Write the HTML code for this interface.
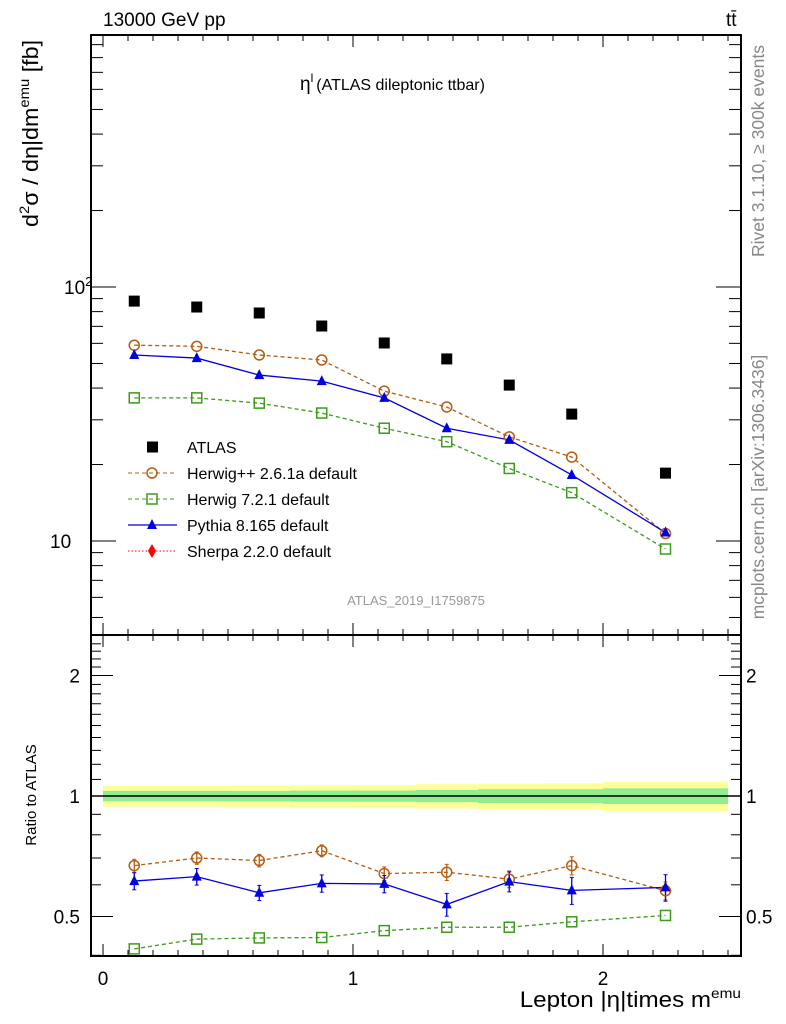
<!DOCTYPE html>
<html><head><meta charset="utf-8"><style>
body{margin:0;background:#fff;}
svg{display:block;font-family:"Liberation Sans",sans-serif;}
</style></head><body>
<svg id="chart" width="786" height="1024" xmlns="http://www.w3.org/2000/svg"></svg>
<script>
const binCenters=[0.125,0.375,0.625,0.875,1.125,1.375,1.625,1.875,2.25];
const binEdges=[0,0.25,0.5,0.75,1.0,1.25,1.5,1.75,2.0,2.5];
const atlasVals=[88,83.4,79,70.2,60.2,52.1,41.1,31.6,18.5];
const herwigppVals=[59,58.4,54,51.6,38.9,33.7,25.7,21.4,10.7];
const herwig7Vals=[36.6,36.6,34.9,31.9,27.8,24.6,19.3,15.5,9.3];
const pythiaVals=[54,52.5,45,42.6,36.6,27.8,25,18.2,10.8];
const herwigppRatio=[0.67,0.70,0.69,0.73,0.64,0.645,0.62,0.67,0.58];
const herwig7Ratio=[0.415,0.439,0.442,0.443,0.461,0.47,0.47,0.485,0.503];
const pythiaRatio=[0.613,0.629,0.573,0.605,0.603,0.536,0.611,0.581,0.591];
const pythiaRatioErr=[0.03,0.03,0.025,0.03,0.03,0.035,0.035,0.045,0.045];
const herwigppRatioErr=[0.025,0.025,0.025,0.025,0.025,0.03,0.03,0.035,0.03];
const bandInner=[0.03,0.03,0.03,0.032,0.032,0.035,0.04,0.04,0.045];
const bandOuter=[0.06,0.06,0.062,0.064,0.066,0.07,0.074,0.076,0.085];
const xTicks=[0,1,2];
const ratioTicks=[0.5,1,2];

const NS="http://www.w3.org/2000/svg";
const svg=document.getElementById('chart');
const L=91,R=741,T=35,M=635,B=956;
const X=v=>103+250*v;
const Y=v=>287-254*(Math.log10(v)-2);
const YR=v=>796-120.5*Math.log2(v);
function mk(tag,at,parent){const e=document.createElementNS(NS,tag);for(const k in at)e.setAttribute(k,at[k]);(parent||svg).appendChild(e);return e;}
function txt(s,x,y,at){const e=mk('text',Object.assign({x:x,y:y},at||{}));e.textContent=s;return e;}

binCenters.forEach((c,i)=>{
 const x0=X(binEdges[i]),x1=X(binEdges[i+1]);
 const r1=mk('rect',{x:x0,y:YR(1+bandOuter[i]),width:x1-x0,height:YR(1-bandOuter[i])-YR(1+bandOuter[i]),fill:'#ffff99'});
 
 
 const r2=mk('rect',{x:x0,y:YR(1+bandInner[i]),width:x1-x0,height:YR(1-bandInner[i])-YR(1+bandInner[i]),fill:'#90ee90'});
 
 
});
mk('line',{x1:L,x2:R,y1:YR(1),y2:YR(1),stroke:'#000','stroke-width':1.5});

const f1=mk('rect',{x:L,y:T,width:R-L,height:M-T,fill:'none',stroke:'#000','stroke-width':2});

const f2=mk('rect',{x:L,y:M,width:R-L,height:B-M,fill:'none',stroke:'#000','stroke-width':2});


for(let k=0;k<=25;k++){const v=k/10;const x=X(v);if(x>R)break;const maj=(k%10===0);const len=maj?12:6;
 [[T,1],[M,-1],[M,1],[B,-1]].forEach(([y,d])=>mk('line',{x1:x,x2:x,y1:y,y2:y+d*len,stroke:'#000','stroke-width':1}));}
xTicks.forEach(v=>{const t=txt(v,X(v),985,{'font-size':19,'text-anchor':'middle'});});

for(let d=0;d<=3;d++)for(let m=1;m<10;m++){const v=m*Math.pow(10,d);const y=Y(v);if(y<T||y>M)continue;const len=m===1?25:12;
 mk('line',{x1:L,x2:L+len,y1:y,y2:y,stroke:'#000'});mk('line',{x1:R,x2:R-len,y1:y,y2:y,stroke:'#000'});}
let t=txt('10',64,Y(100)+7,{'font-size':19});
mk('tspan',{dy:-8,'font-size':13},t).textContent='2';
t=txt('10',50,Y(10)+7,{'font-size':19});

for(let v=0.4;v<=2.5;v+=0.1){const vv=Math.round(v*10)/10;const y=YR(vv);if(y<M||y>B)continue;const maj=ratioTicks.includes(vv);const len=maj?22:10;
 mk('line',{x1:L,x2:L+len,y1:y,y2:y,stroke:'#000'});mk('line',{x1:R,x2:R-len,y1:y,y2:y,stroke:'#000'});}
ratioTicks.forEach(v=>{
 let a=txt(v,80,YR(v)+7,{'font-size':19,'text-anchor':'end'});
 let b=txt(v,746,YR(v)+7,{'font-size':19});
});

function line(vals,yf,color,dash,name){const p=mk('polyline',{points:binCenters.map((c,i)=>X(c)+','+yf(vals[i])).join(' '),fill:'none',stroke:color,'stroke-width':1.3,'stroke-dasharray':dash||'none'});}
function circ(x,y,name){const c=mk('circle',{cx:x,cy:y,r:5,fill:'none',stroke:'#b65c0f','stroke-width':1.5});}
function sq(x,y,name){const s=mk('rect',{x:x-5,y:y-5,width:10,height:10,fill:'none',stroke:'#3c9b1a','stroke-width':1.5});}
function tri(x,y,name){const p=mk('polygon',{points:`${x-5},${y+4} ${x+5},${y+4} ${x},${y-6}`,fill:'#0000e0'});}
function err(x,y1,y2,color){mk('line',{x1:x,x2:x,y1:y1,y2:y2,stroke:color,'stroke-width':1.3});mk('line',{x1:x-2,x2:x+2,y1:y1,y2:y1,stroke:color});mk('line',{x1:x-2,x2:x+2,y1:y2,y2:y2,stroke:color});}

line(herwigppVals,Y,'#b65c0f','4,3','herwigpp-line');
line(herwig7Vals,Y,'#3c9b1a','4,3','herwig7-line');
line(pythiaVals,Y,'#0000e0',null,'pythia-line');
binCenters.forEach((c,i)=>{
 const x=X(c);
 circ(x,Y(herwigppVals[i]),'herwigpp-point');
 sq(x,Y(herwig7Vals[i]),'herwig7-point');
 tri(x,Y(pythiaVals[i]),'pythia-point');
 const a=mk('rect',{x:x-5.5,y:Y(atlasVals[i])-5.5,width:11,height:11,fill:'#000'});
 
 
});
line(herwigppRatio,YR,'#b65c0f','4,3','herwigpp-ratio-line');
line(herwig7Ratio,YR,'#3c9b1a','4,3','herwig7-ratio-line');
line(pythiaRatio,YR,'#0000e0',null,'pythia-ratio-line');
binCenters.forEach((c,i)=>{
 const x=X(c);
 err(x,YR(herwigppRatio[i]+herwigppRatioErr[i]),YR(herwigppRatio[i]-herwigppRatioErr[i]),'#b65c0f');
 err(x,YR(pythiaRatio[i]+pythiaRatioErr[i]),YR(pythiaRatio[i]-pythiaRatioErr[i]),'#0000e0');
 circ(x,YR(herwigppRatio[i]),'herwigpp-ratio-point');
 sq(x,YR(herwig7Ratio[i]),'herwig7-ratio-point');
 tri(x,YR(pythiaRatio[i]),'pythia-ratio-point');
});

const leg=[['ATLAS','atlas'],['Herwig++ 2.6.1a default','hpp'],['Herwig 7.2.1 default','h7'],['Pythia 8.165 default','py'],['Sherpa 2.2.0 default','sh']];
leg.forEach(([s,k],i)=>{const y=447+26*i;
 if(k==='atlas'){mk('rect',{x:147,y:y-5.5,width:11,height:11,fill:'#000'});}
 if(k==='hpp'){mk('line',{x1:128,x2:177,y1:y,y2:y,stroke:'#b65c0f','stroke-dasharray':'4,3'});circ(152,y,'legend-marker');}
 if(k==='h7'){mk('line',{x1:128,x2:177,y1:y,y2:y,stroke:'#3c9b1a','stroke-dasharray':'4,3'});sq(152,y,'legend-marker');}
 if(k==='py'){mk('line',{x1:128,x2:177,y1:y,y2:y,stroke:'#0000e0','stroke-width':1.3});tri(152,y,'legend-marker');}
 if(k==='sh'){mk('line',{x1:128,x2:177,y1:y,y2:y,stroke:'#ff0000','stroke-dasharray':'1.5,2'});mk('polygon',{points:'152,'+(y-7)+' 156,'+y+' 152,'+(y+7)+' 148,'+y,fill:'#ff0000'});}
 const e=txt(s,187,y+6,{'font-size':16});
});

let e=txt('13000 GeV pp',103,26,{'font-size':19});
e=txt('tt̄',726,26,{'font-size':19});
e=txt('η',300,90,{'font-size':19});
mk('tspan',{dy:-8,'font-size':12},e).textContent='l';
mk('tspan',{dy:8,dx:3,'font-size':16},e).textContent='(ATLAS dileptonic ttbar)';
e=txt('ATLAS_2019_I1759875',416,605,{'font-size':13,fill:'#999','text-anchor':'middle'});
e=txt('Rivet 3.1.10, ≥ 300k events',0,0,{'font-size':17.5,fill:'#888','text-anchor':'middle',transform:'translate(764,151) rotate(-90)'});
e=txt('mcplots.cern.ch [arXiv:1306.3436]',0,0,{'font-size':17.5,fill:'#888','text-anchor':'middle',transform:'translate(764,487) rotate(-90)'});
const yg=mk('g',{transform:'translate(38,227) rotate(-90) scale(1.06,1)'});
e=txt('d',0,0,{'font-size':22});yg.appendChild(e);
mk('tspan',{dy:-9,'font-size':14},e).textContent='2';
mk('tspan',{dy:9},e).textContent='σ / dη|dm';
mk('tspan',{dy:-9,'font-size':14},e).textContent='emu';
mk('tspan',{dy:9},e).textContent=' [fb]';
e=txt('Ratio to ATLAS',0,0,{'font-size':15,'text-anchor':'middle',transform:'translate(36,795) rotate(-90)'});
const xg=mk('g',{transform:'translate(741,1007) scale(1.1,1)'});
e=txt('Lepton |η|times m',0,0,{'font-size':22,'text-anchor':'end'});xg.appendChild(e);
mk('tspan',{dy:-9,'font-size':14},e).textContent='emu';
</script>
</body></html>
